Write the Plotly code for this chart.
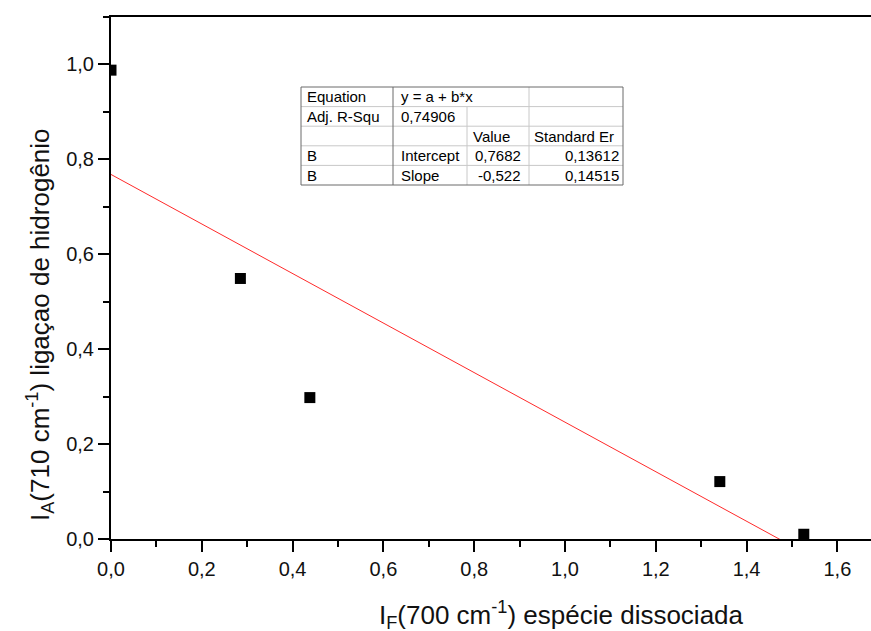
import plotly.graph_objects as go

# Measured intensities
x_vals = [0.0, 0.285, 0.438, 1.341, 1.526]
y_vals = [0.988, 0.549, 0.298, 0.121, 0.010]

# Linear fit y = a + b*x
fit_intercept = 0.7682
fit_slope = -0.522
fit_intercept_err = 0.13612
fit_slope_err = 0.14515
adj_r2 = 0.74906

# Fit-summary table cells (row by row)
table_rows = [
    ["Equation", "y = a + b*x", "", ""],
    ["Adj. R-Squ", "0,74906", "", ""],
    ["", "", "Value", "Standard Er"],
    ["B", "Intercept", "0,7682", "0,13612"],
    ["B", "Slope", "-0,522", "0,14515"],
]

W, H = 871, 631
ML, MR, MT, MB = 111, 0, 17, 92
PW, PH = W - ML - MR, H - MT - MB

X_MAX = PW / 454.0
Y_MAX = 1.1


def px(xp):
    return (xp - ML) / PW


def py(yp):
    return (H - MB - yp) / PH


fig = go.Figure()

fit_x = [0.0, max(x_vals)]
fit_y = [fit_intercept + fit_slope * v for v in fit_x]
fig.add_trace(go.Scatter(
    x=fit_x, y=fit_y, mode="lines",
    line=dict(color="#ff2a2a", width=1),
    showlegend=False, hoverinfo="skip",
))

fig.add_trace(go.Scatter(
    x=x_vals, y=y_vals, mode="markers",
    marker=dict(symbol="square", size=11, color="black", line=dict(width=0)),
    showlegend=False, cliponaxis=True,
))

tick_font = dict(family="Liberation Sans, Arial", size=20, color="#111")

axis_common = dict(
    showgrid=False, zeroline=False,
    showline=True, linecolor="black", linewidth=2,
    ticks="outside", ticklen=11, tickwidth=2, tickcolor="black",
    tick0=0, dtick=0.2, tickformat=".1f", tickfont=tick_font,
    minor=dict(ticks="outside", ticklen=6, tickwidth=2, tickcolor="black", dtick=0.1, tick0=0),
)
fig.update_xaxes(range=[0, X_MAX], mirror=True, **axis_common)
fig.update_yaxes(range=[0, Y_MAX], mirror=False, ticklabelstandoff=0, **axis_common)

title_font = dict(family="Liberation Sans, Arial", size=26, color="#111")
annotations = [
    dict(text="I<sub>F</sub>(700 cm<sup>-1</sup>) espécie dissociada",
         x=px(561), y=py(615), xref="paper", yref="paper",
         xanchor="center", yanchor="middle", showarrow=False, font=title_font),
    dict(text="I<sub>A</sub>(710 cm<sup>-1</sup>) ligaçao de hidrogênio",
         x=px(40), y=py(325), xref="paper", yref="paper", textangle=-90,
         xanchor="center", yanchor="middle", showarrow=False, font=title_font),
]

# Fit-summary table drawn with shapes and annotations
tab_left, tab_right = 301, 623
col_edges = [301, 393, 467, 529, 623]
tab_top, row_h = 87, 19.6
n_rows = len(table_rows)
tab_bottom = tab_top + row_h * n_rows

shapes = []
light = "#c8c8c8"
dark = "#6a6a6a"


def hline(x0, x1, yp, color):
    shapes.append(dict(type="line", xref="paper", yref="paper",
                       x0=px(x0), x1=px(x1), y0=py(yp), y1=py(yp),
                       line=dict(color=color, width=1)))


def vline(xp, y0, y1, color):
    shapes.append(dict(type="line", xref="paper", yref="paper",
                       x0=px(xp), x1=px(xp), y0=py(y0), y1=py(y1),
                       line=dict(color=color, width=1)))


for r in range(1, n_rows):
    hline(tab_left, tab_right, tab_top + r * row_h, light)
vline(col_edges[1], tab_top, tab_bottom, dark)
vline(col_edges[2], tab_top + row_h, tab_bottom, light)
vline(col_edges[3], tab_top, tab_bottom, light)
shapes.append(dict(type="rect", xref="paper", yref="paper",
                   x0=px(tab_left), x1=px(tab_right), y0=py(tab_top), y1=py(tab_bottom),
                   line=dict(color=dark, width=1)))

cell_font = dict(family="Liberation Sans, Arial", size=15, color="black")
left_pos = [305, 399, 471, 532]
right_pos = [None, None, 523, 621]
for r, row in enumerate(table_rows):
    yc = tab_top + row_h * (r + 0.5)
    for c, txt in enumerate(row):
        if not txt:
            continue
        numeric = r >= 3 and c >= 2
        if numeric:
            annotations.append(dict(text=txt, x=px(right_pos[c]), y=py(yc),
                                    xref="paper", yref="paper", xanchor="right",
                                    yanchor="middle", showarrow=False, font=cell_font))
        else:
            annotations.append(dict(text=txt, x=px(left_pos[c]), y=py(yc),
                                    xref="paper", yref="paper", xanchor="left",
                                    yanchor="middle", showarrow=False, font=cell_font))

fig.update_layout(
    width=W, height=H,
    margin=dict(l=ML, r=MR, t=MT, b=MB, pad=0),
    paper_bgcolor="white", plot_bgcolor="white",
    separators=", ",
    annotations=annotations, shapes=shapes,
    showlegend=False,
)

fig.write_html("out.html")
